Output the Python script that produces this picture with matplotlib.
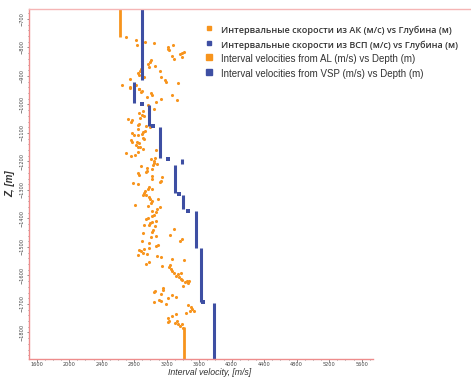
import matplotlib
matplotlib.use("Agg")
import matplotlib.pyplot as plt
from matplotlib.lines import Line2D
from matplotlib.ticker import MultipleLocator, FixedLocator

# interval velocities from acoustic logging (AL), m/s vs depth, m
al_vel = [2699, 2822, 2831, 2900, 2937, 3040, 3220, 3228, 3212, 3278, 3269, 3290,
          3364, 3392, 3417, 3392, 2892, 2974, 2995, 3007, 2986, 3052, 2880, 2871,
          2850, 2863, 2921, 3121, 3134, 3175, 3188, 3335, 2748, 2646, 2745, 2818,
          2859,
          2748, 2863, 2892, 2880, 3003, 3023, 2961, 3269, 3323, 3134, 3065, 2974,
          2982, 2986, 3040, 2912, 2863, 2892, 2871, 2921, 2727, 2769, 2757, 2863,
          2850, 2942, 2995, 2850, 2933, 2905, 2892, 2777, 2801, 2850, 2905, 2924,
          2757, 2769, 2831, 2863, 2818, 2850, 2871, 2912, 3065,
          2695, 2757, 2810, 2843, 3003, 3048, 3077, 3048, 3028, 3056, 2880, 2954,
          2961, 2945, 3023, 2843, 2856, 3016, 3023, 3139, 3127, 3118, 2789, 2850,
          2982, 2966, 3023, 2933, 2921, 2945, 2912, 2982, 2995, 3016, 3003, 3089,
          2814, 2974, 3118, 3077,
          3065, 3023, 3048, 3016, 2974, 2942, 3065, 3023, 2995, 2986, 2921, 3056,
          3035, 3023, 3290, 2912, 3245, 3069, 3007, 3385, 3368, 2892, 2986, 3097,
          3065, 2921, 2863, 2884, 2843, 2912, 2954, 2986, 3077, 3127, 3269, 3417,
          2982, 2942, 3139, 3241, 3228, 3253,
          3269, 3290, 3335, 3376, 3318, 3352, 3376, 3392, 3426, 3459, 3446, 3478,
          3397, 3159, 3151, 3056, 3044, 3130, 3269, 3315, 3220, 3109, 3130, 3040,
          3188, 3466, 3499, 3515, 3540, 3487, 3438, 3311, 3269, 3220, 3228, 3212,
          3323, 3302, 3343, 3364, 3405, 3392]
al_depth = [-763, -775, -790, -769, -781, -785, -799, -808, -804, -792, -829, -840,
            -823, -818, -816, -834, -848, -858, -852, -845, -869, -865, -874, -881,
            -889, -895, -902, -883, -904, -915, -921, -924, -909, -933, -940, -930,
            -945,
            -942, -946, -954, -957, -960, -966, -974, -968, -985, -980, -990, -1003,
            -1010, -1018, -1016, -1024, -1030, -1038, -1047, -1041, -1050, -1055, -1061, -1067,
            -1073, -1077, -1079, -1087, -1092, -1098, -1104, -1101, -1108, -1108, -1118, -1122,
            -1126, -1131, -1132, -1135, -1143, -1148, -1150, -1156, -1159,
            -1170, -1181, -1176, -1167, -1190, -1197, -1209, -1205, -1211, -1188, -1217, -1223,
            -1232, -1237, -1225, -1240, -1246, -1252, -1261, -1255, -1267, -1273, -1275, -1279,
            -1290, -1295, -1297, -1305, -1312, -1317, -1319, -1324, -1331, -1340, -1346, -1331,
            -1352, -1357, -1361, -1367,
            -1377, -1375, -1387, -1392, -1398, -1401, -1410, -1412, -1416, -1422, -1424, -1427,
            -1439, -1447, -1436, -1451, -1457, -1462, -1466, -1472, -1478, -1480, -1485, -1492,
            -1498, -1506, -1510, -1515, -1527, -1521, -1525, -1504, -1533, -1536, -1541, -1546,
            -1553, -1559, -1566, -1562, -1571, -1576,
            -1585, -1590, -1595, -1591, -1603, -1606, -1611, -1617, -1623, -1627, -1621, -1621,
            -1638, -1644, -1650, -1653, -1659, -1664, -1667, -1674, -1679, -1685, -1691, -1693,
            -1699, -1705, -1712, -1718, -1726, -1724, -1732, -1735, -1743, -1749, -1759, -1763,
            -1759, -1767, -1770, -1776, -1784, -1770]

# constant AL intervals at the top and bottom of the log
al_const_vel = [2630, 3410]
al_const_top = [-665, -1780]
al_const_bot = [-762, -1893]

# VSP interval velocities (constant within each interval)
vsp_vel = [2900, 2800, 2980, 3120, 3385, 3300, 3397, 3561, 3622, 3780]
vsp_top = [-665, -920, -1002, -1078, -1192, -1212, -1318, -1372, -1505, -1695]
vsp_bot = [-914, -996, -1075, -1189, -1209, -1312, -1368, -1502, -1692, -1893]
# single VSP samples at interval boundaries
vsp_pt_vel = [2900, 3027, 3220, 3347, 3466, 3651]
vsp_pt_depth = [-1000, -1075, -1190, -1315, -1372, -1694]

orange = "#F7941D"
blue = "#3E4FA3"
frame = "#EE8C8C"

fig = plt.figure(figsize=(4.71, 3.77), dpi=100)
ax = fig.add_axes([29 / 471, 18 / 377, 344 / 471, 350 / 377])

ax.vlines(al_const_vel, al_const_top, al_const_bot, color=orange, lw=2.0)
ax.scatter(al_vel, al_depth, s=5, c=orange, marker="o", linewidths=0)
ax.vlines(vsp_vel, vsp_top, vsp_bot, color=blue, lw=2.2)
ax.scatter(vsp_pt_vel, vsp_pt_depth, s=7, c=blue, marker="s", linewidths=0)

ax.set_xlim(1505, 5740)
ax.set_ylim(-1893, -665)

ax.xaxis.set_major_locator(FixedLocator(range(1600, 5700, 400)))
ax.xaxis.set_minor_locator(MultipleLocator(100))
ax.yaxis.set_major_locator(FixedLocator(range(-1800, -650, 100)))
ax.yaxis.set_minor_locator(MultipleLocator(20))
ax.tick_params(which="both", direction="out", color="#777777", width=0.6,
               labelsize=3.6, labelcolor="#444444", pad=1.5)
ax.tick_params(axis="x", pad=0.6)
ax.tick_params(which="major", length=1.8)
ax.tick_params(which="minor", length=1.0)
for lbl in ax.get_yticklabels():
    lbl.set_rotation(90)
    lbl.set_va("center")

for side in ["left", "bottom"]:
    ax.spines[side].set_color(frame)
    ax.spines[side].set_linewidth(1.0)
ax.spines["right"].set_visible(False)
ax.spines["top"].set_visible(False)
# top border runs across the whole figure
fig.add_artist(Line2D([29 / 471, 1.0], [368 / 377, 368 / 377],
                      transform=fig.transFigure, color="#F5B5B5", lw=1.0))

ax.set_xlabel("Interval velocity, [m/s]", fontsize=6.3, style="italic",
              family="Liberation Sans", color="#333333")
ax.xaxis.set_label_coords(0.525, -0.027)
ax.set_ylabel("Z, [m]", fontsize=7, style="italic", fontweight="bold",
              family="Liberation Sans", color="#333333", labelpad=3)

handles = [
    Line2D([], [], ls="none", marker="s", ms=3.2, color=orange),
    Line2D([], [], ls="none", marker="s", ms=3.2, color=blue),
    Line2D([], [], ls="none", marker="s", ms=3.8, color=orange),
    Line2D([], [], ls="none", marker="s", ms=3.8, color=blue),
]
labels = [
    "Интервальные скорости из АК (м/с) vs Глубина (м)",
    "Интервальные скорости из ВСП (м/с) vs Глубина (м)",
    "Interval velocities from AL (m/s) vs Depth (m)",
    "Interval velocities from VSP (m/s) vs Depth (m)",
]
leg = fig.legend(handles, labels, loc="upper left", bbox_to_anchor=(203 / 471, 1 - 23 / 377),
                 frameon=False, handlelength=0.8, handletextpad=0.5,
                 labelspacing=0.22, borderaxespad=0, borderpad=0)
for i, t in enumerate(leg.get_texts()):
    t.set_color("#333333")
    if i < 2:
        t.set_family("Open Sans")
        t.set_fontweight("semibold")
        t.set_fontsize(6.5)
    else:
        t.set_family("Liberation Sans")
        t.set_fontsize(7.0)

fig.savefig("out.png", dpi=100)
